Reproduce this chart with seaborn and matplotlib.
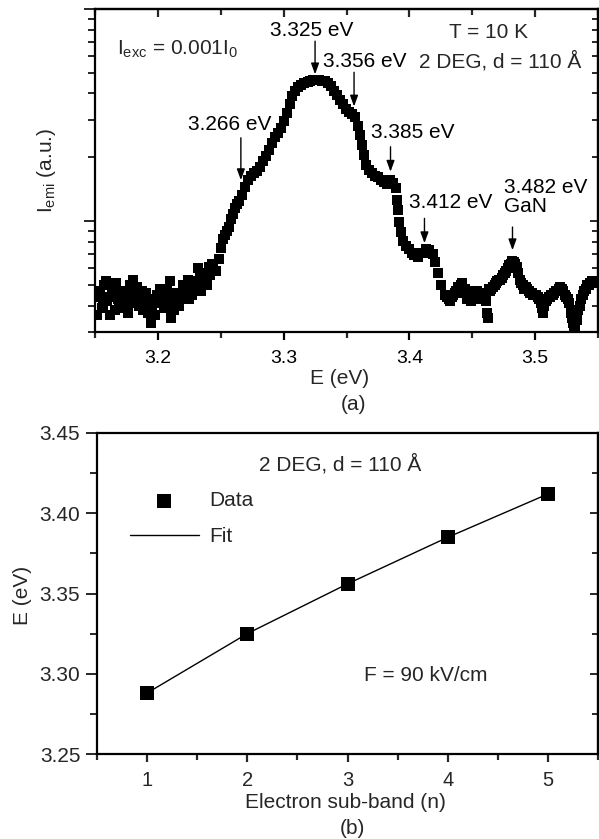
import matplotlib
matplotlib.use("Agg")
import matplotlib.pyplot as plt
import seaborn as sns
import numpy as np
import pandas as pd
from matplotlib.ticker import FixedLocator, NullFormatter, FormatStrFormatter

sns.set_style("ticks")
plt.rcParams['font.family'] = ['Liberation Sans', 'DejaVu Sans']
plt.rcParams['mathtext.fontset'] = 'custom'
plt.rcParams['mathtext.rm'] = 'Liberation Sans'
plt.rcParams['mathtext.it'] = 'Liberation Sans:italic'

# ---------------- data: panel (a) emission spectrum ----------------
spec_E = [3.1516, 3.1540, 3.1563, 3.1587, 3.1610, 3.1634, 3.1658, 3.1680, 3.1705, 3.1730,
          3.1753, 3.1776, 3.1800, 3.1824, 3.1847, 3.1870, 3.1895, 3.1918, 3.1942, 3.1966,
          3.1990, 3.2013, 3.2037, 3.2060, 3.2084, 3.2108, 3.2130, 3.2155, 3.2179, 3.2202,
          3.2226, 3.2250, 3.2273, 3.2297, 3.2320, 3.2345, 3.2368, 3.2390, 3.2416, 3.2440,
          3.2463, 3.2487, 3.2502, 3.2518, 3.2534, 3.2550, 3.2566, 3.2580, 3.2597, 3.2613,
          3.2629, 3.2645, 3.2670, 3.2690, 3.2715, 3.2740, 3.2763, 3.2787, 3.2810, 3.2834,
          3.2858, 3.2880, 3.2905, 3.2930, 3.2952, 3.2976, 3.3000, 3.3023, 3.3047, 3.3070,
          3.3094, 3.3118, 3.3142, 3.3165, 3.3190, 3.3213, 3.3236, 3.3260, 3.3284, 3.3307,
          3.3330, 3.3355, 3.3378, 3.3400, 3.3426, 3.3450, 3.3473, 3.3497, 3.3520, 3.3544,
          3.3568, 3.3590, 3.3607, 3.3623, 3.3640, 3.3655, 3.3678, 3.3700, 3.3726, 3.3750,
          3.3773, 3.3797, 3.3820, 3.3844, 3.3868, 3.3890, 3.3900, 3.3907, 3.3920, 3.3930,
          3.3947, 3.3970, 3.3994, 3.4018, 3.4040, 3.4065, 3.4090, 3.4110, 3.4136, 3.4160,
          3.4184, 3.4207, 3.4230, 3.4255, 3.4280, 3.4300, 3.4326, 3.4350, 3.4373, 3.4397,
          3.4420, 3.4444, 3.4468, 3.4490, 3.4515, 3.4540, 3.4560, 3.4586, 3.4610, 3.4618,
          3.4622, 3.4641, 3.4665, 3.4690, 3.4712, 3.4736, 3.4760, 3.4783, 3.4807, 3.4830,
          3.4854, 3.4878, 3.4900, 3.4925, 3.4949, 3.4972, 3.4996, 3.5020, 3.5044, 3.5060,
          3.5083, 3.5107, 3.5130, 3.5154, 3.5178, 3.5200, 3.5225, 3.5249, 3.5272, 3.5288,
          3.5304, 3.5320, 3.5343, 3.5367, 3.5390, 3.5414, 3.5438, 3.5460,
          # interleaved readings, low-energy background
          3.1528, 3.1552, 3.1575, 3.1599, 3.1622, 3.1646, 3.1669, 3.1693, 3.1717, 3.1741,
          3.1765, 3.1788, 3.1812, 3.1835, 3.1859, 3.1883, 3.1906, 3.1930, 3.1954, 3.1978,
          3.2001, 3.2025, 3.2049, 3.2072, 3.2096, 3.2119, 3.2143, 3.2167, 3.2190, 3.2214,
          3.2238, 3.2262, 3.2285, 3.2309, 3.2333, 3.2356, 3.2380, 3.2403, 3.2428,
          # interleaved readings, high-energy tail
          3.4313, 3.4338, 3.4362, 3.4385, 3.4409, 3.4432, 3.4456, 3.4479, 3.4503, 3.4527,
          3.4550, 3.4573, 3.4598, 3.4630, 3.4653, 3.4677, 3.4700, 3.4724, 3.4748, 3.4772,
          3.4795, 3.4818, 3.4842, 3.4866, 3.4889, 3.4913, 3.4937, 3.4960, 3.4984, 3.5008,
          3.5032, 3.5052, 3.5071, 3.5095, 3.5119, 3.5142, 3.5166, 3.5189, 3.5213, 3.5237,
          3.5260, 3.5296, 3.5312, 3.5332, 3.5355, 3.5379, 3.5402, 3.5426, 3.5449]
spec_I = [0.36, 0.47, 0.40, 0.52, 0.44, 0.48, 0.38, 0.43, 0.39, 0.46,
          0.41, 0.50, 0.53, 0.44, 0.40, 0.47, 0.42, 0.37, 0.33, 0.42,
          0.45, 0.48, 0.43, 0.45, 0.41, 0.35, 0.38, 0.44, 0.46, 0.50,
          0.47, 0.43, 0.45, 0.48, 0.60, 0.47, 0.52, 0.50, 0.56, 0.60,
          0.58, 0.66, 0.75, 0.82, 0.86, 0.90, 0.94, 1.02, 1.08, 1.15,
          1.20, 1.25, 1.33, 1.45, 1.56, 1.63, 1.69, 1.73, 1.80, 1.92,
          2.03, 2.17, 2.34, 2.50, 2.61, 2.76, 2.98, 3.25, 3.58, 3.87,
          4.09, 4.27, 4.37, 4.46, 4.51, 4.56, 4.61, 4.63, 4.61, 4.60,
          4.56, 4.46, 4.32, 4.09, 3.91, 3.74, 3.58, 3.39, 3.28, 3.21,
          3.11, 2.82, 2.55, 2.29, 2.06, 1.84, 1.75, 1.69, 1.63, 1.62,
          1.56, 1.53, 1.50, 1.56, 1.51, 1.43, 1.26, 1.13, 0.99, 0.89,
          0.81, 0.76, 0.74, 0.71, 0.69, 0.68, 0.71, 0.71, 0.74, 0.73,
          0.70, 0.64, 0.57, 0.50, 0.45, 0.44, 0.42, 0.45, 0.47, 0.48,
          0.51, 0.48, 0.44, 0.42, 0.46, 0.47, 0.44, 0.46, 0.42, 0.37,
          0.35, 0.47, 0.49, 0.51, 0.53, 0.54, 0.57, 0.60, 0.63, 0.64,
          0.61, 0.53, 0.50, 0.49, 0.47, 0.46, 0.45, 0.44, 0.41, 0.37,
          0.42, 0.44, 0.45, 0.46, 0.47, 0.49, 0.47, 0.44, 0.41, 0.37,
          0.33, 0.31, 0.38, 0.43, 0.47, 0.50, 0.51, 0.51,
          # interleaved readings, low-energy background
          0.44, 0.39, 0.50, 0.42, 0.36, 0.45, 0.51, 0.40, 0.47, 0.43,
          0.37, 0.45, 0.41, 0.49, 0.44, 0.38, 0.46, 0.43, 0.40, 0.36,
          0.41, 0.44, 0.39, 0.47, 0.52, 0.42, 0.46, 0.40, 0.43, 0.48,
          0.53, 0.45, 0.49, 0.52, 0.55, 0.57, 0.53, 0.61, 0.63,
          # interleaved readings, high-energy tail
          0.43, 0.44, 0.46, 0.49, 0.50, 0.46, 0.43, 0.44, 0.47, 0.45,
          0.45, 0.43, 0.44, 0.48, 0.48, 0.50, 0.52, 0.53, 0.56, 0.58,
          0.62, 0.65, 0.63, 0.57, 0.51, 0.48, 0.48, 0.46, 0.45, 0.45,
          0.43, 0.39, 0.40, 0.43, 0.44, 0.45, 0.47, 0.48, 0.48, 0.45,
          0.43, 0.35, 0.32, 0.34, 0.40, 0.45, 0.48, 0.50, 0.52]

peak_E = [3.266, 3.325, 3.356, 3.385, 3.412, 3.482]
peak_labels = ["3.266 eV", "3.325 eV", "3.356 eV", "3.385 eV", "3.412 eV", "3.482 eV\nGaN"]

x_ticks_a = [3.2, 3.3, 3.4, 3.5]
x_tick_labels_a = ["3.2", "3.3", "3.4", "3.5"]

# ---------------- data: panel (b) sub-band energies ----------------
band_n = [1, 2, 3, 4, 5]
band_E = [3.288, 3.325, 3.356, 3.385, 3.412]
fit_E = [3.288, 3.325, 3.356, 3.385, 3.412]
y_ticks_b = [3.25, 3.30, 3.35, 3.40, 3.45]
x_ticks_b = [1, 2, 3, 4, 5]

W, H = 599, 839
fig = plt.figure(figsize=(W / 100, H / 100), dpi=100)

def box(l, t, r, b):
    return [l / W, 1 - b / H, (r - l) / W, (b - t) / H]

ax1 = fig.add_axes(box(95, 9, 598, 332))
ax2 = fig.add_axes(box(97, 433, 598, 754))

LW = 1.6
FS = 15

# ---------------- panel (a) ----------------
dfa = pd.DataFrame({"E": spec_E, "I": spec_I})
sns.scatterplot(data=dfa, x="E", y="I", marker="s", s=48, color="black",
                linewidth=0, ax=ax1, legend=False)
ax1.set_yscale("log")
ax1.set_xlim(3.15, 3.55)
ax1.set_ylim(0.3, 10)
ax1.set_xlabel("")
ax1.set_ylabel("")
ax1.set_xticks(x_ticks_a)
ax1.set_xticklabels(x_tick_labels_a)
ax1.xaxis.set_minor_locator(FixedLocator([3.15, 3.25, 3.35, 3.45, 3.55]))
ax1.yaxis.set_major_locator(FixedLocator([1, 10]))
ax1.yaxis.set_minor_locator(FixedLocator([0.3, 0.4, 0.5, 0.6, 0.7, 0.8, 0.9,
                                          2, 3, 4, 5, 6, 7, 8, 9]))
ax1.yaxis.set_major_formatter(NullFormatter())
ax1.yaxis.set_minor_formatter(NullFormatter())
ax1.tick_params(axis="x", which="major", direction="out", length=6, width=LW,
                labelsize=14, pad=7, top=False, colors="black")
ax1.tick_params(axis="x", which="minor", direction="out", length=4, width=LW, top=False)
ax1.tick_params(axis="y", which="major", direction="out", length=8, width=1.4, right=False)
ax1.tick_params(axis="y", which="minor", direction="out", length=5, width=1.4, right=False)
for s in ax1.spines.values():
    s.set_linewidth(LW)
    s.set_color("black")

secx = ax1.secondary_xaxis("top")
secx.set_xticks(x_ticks_a)
secx.xaxis.set_minor_locator(FixedLocator([3.15, 3.25, 3.35, 3.45, 3.55]))
secx.tick_params(axis="x", which="major", direction="in", length=6, width=LW, labeltop=False)
secx.tick_params(axis="x", which="minor", direction="in", length=4, width=LW, labeltop=False)
secx.spines["top"].set_linewidth(LW)

secy = ax1.secondary_yaxis("right")
secy.yaxis.set_major_locator(FixedLocator([1, 10]))
secy.yaxis.set_minor_locator(FixedLocator([0.3, 0.4, 0.5, 0.6, 0.7, 0.8, 0.9,
                                           2, 3, 4, 5, 6, 7, 8, 9]))
secy.yaxis.set_major_formatter(NullFormatter())
secy.yaxis.set_minor_formatter(NullFormatter())
secy.tick_params(axis="y", which="major", direction="in", length=6, width=1.4)
secy.tick_params(axis="y", which="minor", direction="in", length=4, width=1.4)
secy.spines["right"].set_linewidth(LW)

# arrows (tail, tip) in intensity units, and label positions
arrow_tail = [2.47, 7.05, 5.03, 2.24, 1.03, 0.937]
arrow_tip = [1.56, 4.92, 3.47, 1.71, 0.787, 0.729]
label_pos = [(3.2573, 2.85, "center"), (3.3225, 7.9, "center"), (3.3645, 5.67, "center"),
             (3.4026, 2.61, "center"), (3.4326, 1.23, "center"), (3.4752, 1.30, "left")]
for e, t0, t1, lab, (lx, ly, ha) in zip(peak_E, arrow_tail, arrow_tip, peak_labels, label_pos):
    ax1.annotate("", xy=(e, t1), xytext=(e, t0),
                 arrowprops=dict(arrowstyle="-|>,head_length=0.55,head_width=0.2",
                                 color="black", lw=1.0, mutation_scale=12,
                                 shrinkA=0, shrinkB=0))
    ax1.text(lx, ly, lab, ha=ha, va="center", fontsize=FS, color="black",
             linespacing=1.0)

ax1.text(3.4633, 7.78, "T = 10 K", ha="center", va="center", fontsize=FS)
ax1.text(3.472, 5.67, "2 DEG, d = 110 Å", ha="center", va="center", fontsize=FS)
ax1.text(3.1674, 6.46, r"I$_{\rm exc}$ = 0.001I$_0$", ha="left", va="center", fontsize=FS)

fig.text(47 / W, 1 - 170 / H, r"I$_{\rm emi}$ (a.u.)", rotation=90,
         ha="center", va="center", fontsize=FS)
fig.text(340 / W, 1 - 378 / H, "E (eV)", ha="center", va="center", fontsize=FS)
fig.text(353 / W, 1 - 405 / H, "(a)", ha="center", va="center", fontsize=FS)

# ---------------- panel (b) ----------------
dfb = pd.DataFrame({"n": band_n, "E": band_E, "fit": fit_E})
sns.lineplot(data=dfb, x="n", y="fit", color="black", lw=1.0, ax=ax2, label="Fit")
sns.scatterplot(data=dfb, x="n", y="E", marker="s", s=90, color="black",
                linewidth=0, ax=ax2, label="Data", zorder=3)
ax2.set_xlim(0.5, 5.5)
ax2.set_ylim(3.25, 3.45)
ax2.set_xlabel("")
ax2.set_ylabel("")
ax2.set_xticks(x_ticks_b)
ax2.set_yticks(y_ticks_b)
ax2.yaxis.set_major_formatter(FormatStrFormatter("%.2f"))
ax2.xaxis.set_minor_locator(FixedLocator([0.5, 1.5, 2.5, 3.5, 4.5, 5.5]))
ax2.yaxis.set_minor_locator(FixedLocator([3.275, 3.325, 3.375, 3.425]))
ax2.tick_params(axis="x", which="major", direction="out", length=6, width=LW,
                labelsize=14.5, pad=6, top=False)
ax2.tick_params(axis="x", which="minor", direction="out", length=4, width=LW, top=False)
ax2.tick_params(axis="y", which="major", direction="out", length=8, width=1.4,
                labelsize=15, pad=4, right=False)
ax2.tick_params(axis="y", which="minor", direction="out", length=5, width=1.4, right=False)
for s in ax2.spines.values():
    s.set_linewidth(LW)
    s.set_color("black")

secy2 = ax2.secondary_yaxis("right")
secy2.set_yticks(y_ticks_b)
secy2.yaxis.set_minor_locator(FixedLocator([3.275, 3.325, 3.375, 3.425]))
secy2.yaxis.set_major_formatter(NullFormatter())
secy2.tick_params(axis="y", which="major", direction="in", length=6, width=1.4)
secy2.tick_params(axis="y", which="minor", direction="in", length=4, width=1.4)
secy2.spines["right"].set_linewidth(LW)

handles, labels = ax2.get_legend_handles_labels()
hmap = dict(zip(labels, handles))
ax2.legend([hmap["Data"], hmap["Fit"]], ["Data", "Fit"], loc="upper left",
           bbox_to_anchor=(0.066, 0.818), frameon=False, fontsize=FS,
           handlelength=3.3, handletextpad=0.5, labelspacing=0.8,
           borderpad=0, borderaxespad=0)

ax2.text(2.93, 3.4306, "2 DEG, d = 110 Å", ha="center", va="center", fontsize=FS)
ax2.text(3.78, 3.299, "F = 90 kV/cm", ha="center", va="center", fontsize=FS)

fig.text(23 / W, 1 - 595 / H, "E (eV)", rotation=90, ha="center", va="center", fontsize=FS)
fig.text(345 / W, 1 - 803 / H, "Electron sub-band (n)", ha="center", va="center", fontsize=FS)
fig.text(352 / W, 1 - 828 / H, "(b)", ha="center", va="center", fontsize=FS)

fig.savefig("out.png", dpi=100)
